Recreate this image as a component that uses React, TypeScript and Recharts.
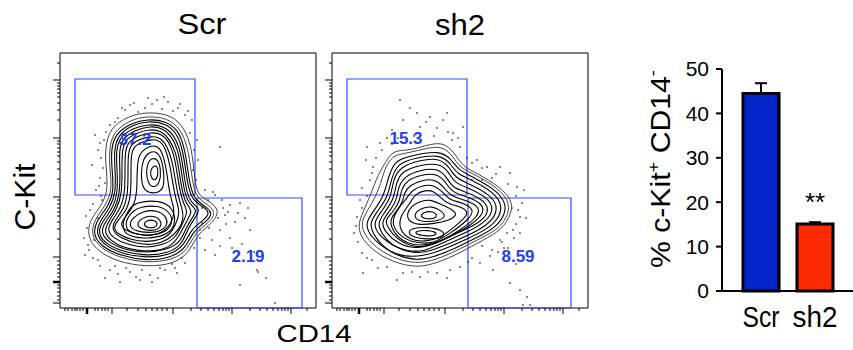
import React from 'react';
import {
  ScatterChart, Scatter, XAxis, YAxis, ReferenceArea, ReferenceDot,
  BarChart, Bar, Cell, ErrorBar, LabelList,
} from 'recharts';

const FONT = '"Liberation Sans", Arial, Helvetica, sans-serif';
const GATE_BLUE = '#2f4dff';
const LABEL_BLUE = '#2140ee';

// ---------- flow panels (display units: CD14 x 0..256, C-Kit y 0..255) ----------
const xMajorTicks = [27, 52, 113, 172, 231];
const xMinorTicks = [5, 8, 12, 15, 17, 20, 23, 35, 38, 42, 45, 48, 67, 78, 86, 92, 97, 102, 107,
  131, 141, 148, 154, 159, 163, 166, 169, 190, 200, 207, 213, 218, 222, 225, 228, 247];
const yMajorTicks = [5, 26, 51, 111, 170, 228];
const yMinorTicks = [8, 12, 16, 20, 23, 31, 35, 39, 43, 47, 69, 79, 86, 92, 96, 100, 104, 108,
  129, 139, 146, 152, 156, 160, 164, 167, 188, 198, 205, 211, 215, 219, 222, 225, 245];

const scrGates = [
  { x1: 15, x2: 135, y1: 113, y2: 229 },
  { x1: 137, x2: 242, y1: 0, y2: 110 },
];
const sh2Gates = [
  { x1: 15, x2: 135, y1: 113, y2: 229 },
  { x1: 136, x2: 239, y1: 0, y2: 110 },
];
const scrGateValues = ['37.2', '2.19'];
const sh2GateValues = ['15.3', '8.59'];
const scrGateLabelAt = [[75, 169], [188, 52]];
const sh2GateLabelAt = [[74, 170], [186, 52]];

const scrContours: number[][][] = [
  [[68,192],[87,196],[108,194],[122,184],[130,166],[133,148],[135,125],[139,112],[149,107],[160,98],[153,85],[137,74],[130,56],[114,44],[87,41],[58,46],[37,57],[27,72],[30,89],[43,104],[48,120],[46,140],[45,160],[50,180]],
  [[70,188],[87,192],[107,190],[120,180],[127,163],[130,146],[133,123],[137,110],[147,104],[156,96],[150,86],[135,76],[128,58],[113,48],[87,45],[60,50],[40,60],[31,73],[34,88],[46,103],[52,118],[50,138],[49,158],[53,176]],
  [[71,185],[88,189],[106,187],[118,178],[124,162],[127,144],[130,122],[135,108],[145,102],[153,95],[147,87],[133,77],[126,60],[111,50],[87,47],[61,52],[42,61],[33,73],[36,87],[48,101],[54,117],[52,138],[51,158],[55,174]],
  [[72,183],[88,187],[105,185],[116,176],[122,161],[125,143],[128,121],[133,107],[144,101],[150,95],[144,88],[131,79],[124,62],[110,53],[87,50],[62,54],[44,63],[36,74],[39,86],[50,100],[56,116],[55,138],[54,158],[58,173]],
  [[73,180],[89,184],[104,182],[114,173],[120,159],[123,141],[126,119],[130,106],[141,99],[135,90],[128,80],[122,63],[108,55],[87,52],[63,56],[46,64],[38,74],[41,85],[52,98],[58,115],[57,138],[56,158],[60,171]],
  [[75,178],[90,182],[103,180],[112,171],[118,158],[121,140],[124,118],[128,105],[138,98],[132,90],[126,80],[120,65],[106,58],[87,55],[65,58],[48,66],[41,75],[44,85],[54,97],[60,114],[60,138],[59,158],[63,170]],
  [[76,175],[90,179],[102,177],[110,168],[116,155],[119,138],[122,117],[126,104],[133,97],[127,88],[121,75],[111,61],[96,57],[79,57],[61,61],[50,68],[44,76],[48,86],[57,99],[62,115],[62,138],[62,157],[65,168]],
  [[78,172],[91,176],[102,174],[109,166],[114,153],[117,136],[120,116],[124,103],[128,96],[123,86],[116,70],[103,63],[86,60],[68,63],[53,70],[47,78],[52,88],[61,100],[65,116],[65,138],[65,156],[68,166]],
  [[80,169],[92,172],[101,170],[107,162],[112,148],[115,130],[118,112],[122,100],[124,90],[119,78],[108,68],[94,63],[78,64],[62,69],[51,78],[55,88],[64,99],[68,115],[68,137],[68,154],[71,164]],
  [[82,166],[92,169],[101,167],[106,158],[110,143],[113,123],[116,108],[120,96],[116,84],[110,73],[100,68],[86,66],[71,68],[58,74],[53,80],[58,88],[67,98],[71,113],[71,136],[71,153],[74,162]],
  [[85,160],[94,163],[100,160],[104,150],[107,135],[109,118],[112,106],[115,96],[111,84],[104,76],[92,72],[78,73],[64,78],[60,84],[66,92],[74,102],[77,116],[77,136],[78,152]],
  [[89,156],[97,157],[102,148],[104,134],[104,120],[98,115],[88,115],[82,121],[81,136],[83,149]],
  [[92,150],[98,149],[101,138],[100,125],[94,120],[88,124],[86,136],[88,146]],
  [[94,143],[98,141],[98,132],[95,127],[91,130],[90,137]],
  [[76,106],[100,108],[113,100],[116,86],[110,74],[90,69],[70,71],[62,78],[64,90],[70,100]],
  [[80,101],[98,103],[110,96],[113,86],[107,76],[90,72],[73,74],[65,80],[67,90],[73,97]],
  [[83,97],[97,98],[106,92],[108,84],[102,77],[88,75],[75,77],[69,82],[72,90]],
  [[85,92],[96,92],[102,86],[100,79],[90,77],[80,79],[76,85]],
  [[87,88],[95,88],[98,84],[95,80],[88,80],[83,83]],
];

const sh2Contours: number[][][] = [
  [[61,158],[75,157],[95,163],[111,166],[122,156],[131,141],[145,135],[168,121],[180,108],[180,95],[170,78],[151,68],[128,55],[105,45],[85,40],[60,46],[40,58],[28,72],[26,85],[33,100],[40,117],[46,133],[53,145]],
  [[62,153],[76,155],[95,160],[110,162],[121,152],[128,140],[144,133],[166,120],[177,107],[177,94],[167,79],[149,70],[126,58],[104,48],[84,44],[60,50],[39,64],[30,78],[30,88],[37,100],[46,116],[51,133],[55,144]],
  [[63,148],[78,152],[108,158],[120,148],[126,138],[143,130],[164,118],[174,105],[173,93],[163,80],[146,71],[124,60],[102,51],[83,47],[60,54],[38,71],[33,85],[41,96],[52,112],[56,130]],
  [[66,145],[83,150],[108,154],[119,144],[125,134],[142,127],[161,116],[170,104],[168,91],[156,79],[135,69],[113,59],[92,52],[73,51],[55,57],[42,72],[37,85],[45,96],[56,111],[59,129]],
  [[68,141],[88,148],[108,150],[118,140],[123,130],[140,123],[158,113],[166,102],[162,89],[148,78],[123,67],[102,58],[83,54],[64,60],[46,73],[41,85],[49,96],[59,110],[61,128]],
  [[70,137],[88,143],[107,145],[117,136],[122,125],[139,119],[156,110],[162,99],[155,87],[136,76],[112,66],[92,56],[74,57],[59,63],[50,74],[45,85],[53,96],[62,109],[64,125]],
  [[73,132],[88,138],[105,140],[115,131],[120,120],[138,115],[154,106],[157,96],[148,85],[123,74],[101,63],[83,59],[66,64],[53,76],[49,86],[57,96],[65,108],[66,121]],
  [[75,128],[89,133],[104,135],[114,126],[119,116],[136,111],[151,104],[152,94],[138,82],[117,71],[97,61],[80,61],[64,69],[55,82],[53,88],[61,96],[68,107],[69,118]],
  [[78,123],[90,128],[103,129],[112,121],[118,112],[134,108],[148,101],[146,91],[128,78],[110,67],[92,62],[75,64],[62,74],[57,88],[64,96],[71,106],[72,115]],
  [[80,118],[92,123],[102,123],[111,116],[117,108],[132,105],[143,98],[136,88],[119,75],[101,64],[84,65],[70,70],[60,82],[62,93],[69,103],[75,110]],
  [[83,114],[93,118],[102,117],[109,110],[116,104],[130,101],[138,95],[126,84],[110,71],[93,66],[78,68],[67,78],[68,92],[77,103]],
  [[86,106],[98,109],[108,104],[120,99],[126,93],[116,87],[100,84],[86,83],[76,87],[75,95],[79,101]],
  [[89,100],[100,102],[110,97],[114,91],[106,87],[94,86],[84,88],[82,94]],
  [[92,96],[101,97],[106,92],[101,89],[93,89],[88,92]],
  [[80,80],[96,81],[110,78],[114,72],[104,69],[92,69],[80,71],[76,76]],
  [[84,77],[96,78],[106,75],[102,72],[92,72],[83,74]],
];

const scrEvents: number[][] = [
  [97,208],[108,206],[85,200],[65,198],[118,200],[125,193],[70,203],[50,183],[78,196],[102,199],[113,197],[92,204],[58,190],
  [35,173],[38,158],[32,143],[40,130],[36,118],[42,108],[30,98],[28,63],[25,53],[33,50],[44,168],[41,150],[45,125],[38,90],[27,80],[34,68],
  [50,38],[70,36],[90,33],[105,38],[115,40],[45,30],[60,26],[80,28],[98,30],[125,45],[40,42],
  [132,188],[137,168],[133,138],[138,148],[130,175],
  [145,118],[155,113],[162,108],[170,103],[180,105],[165,93],[175,86],[185,90],[160,78],[170,70],[152,68],[145,58],[190,78],[155,53],
  [198,36],[180,23],[215,5],[160,161],[153,116],[197,38],[142,85],[150,96],[168,96],[178,95],[140,70],[172,60],[160,62],[188,100],[148,108],
  [62,200],[74,205],[88,210],[104,211],[120,204],[128,197],[55,186],[46,176],[40,165],[43,140],[39,122],[41,112],[33,104],[26,92],[24,70],
  [29,58],[38,48],[55,42],[66,40],[82,38],[100,40],[112,44],[122,50],[134,60],[140,78],[158,90],[163,100],[142,100],[136,128],[134,158],
  [58,34],[76,31],[92,26],[117,35],[149,80],[182,64],[176,50],[166,84],[194,56],[206,30],
];

const sh2Events: number[][] = [
  [68,208],[85,195],[98,191],[111,188],[88,181],[71,188],[121,175],[128,161],[48,165],[35,161],[41,141],[38,128],[131,181],[60,178],
  [78,200],[105,180],[115,195],[55,170],[94,186],[120,168],
  [28,108],[25,91],[30,55],[31,35],[22,75],[30,120],[34,148],
  [155,141],[168,141],[178,135],[185,121],[188,91],[181,78],[175,75],[168,68],[188,75],[145,148],[160,130],[190,105],[180,100],
  [172,60],[160,58],[150,62],[140,128],[135,150],
  [55,41],[71,35],[88,31],[105,35],[128,41],[148,45],[161,38],[178,25],[188,18],[195,11],[198,3],[191,3],[40,48],[115,30],[140,50],[65,28],
  [50,158],[44,150],[40,135],[35,112],[30,100],[24,82],[26,66],[35,50],[46,40],[80,36],[96,36],[118,38],[136,46],[158,52],[170,66],
  [184,84],[186,98],[184,112],[176,124],[164,134],[150,140],[140,145],[126,170],[116,176],[102,172],[82,172],[66,170],[60,164],[150,128],
  [176,60],[182,70],[166,56],[194,90],[192,118],[184,44],
];

// ---------- bar chart ----------
const barCategories = ['Scr', 'sh2'];
const barValues = [44.5, 15.1];
const barErrors = [2.3, 0.4];
const barSig = ['', '**'];
const barTicks = [0, 10, 20, 30, 40, 50];
const barColors = ['#0424cc', '#ff2a00'];
const barLabelWidths = [37, 45];

const toPts = (arr: number[][]) => arr.map(([x, y]) => ({ x, y }));

const EmptyShape = () => <g />;
const EventDot = (p: any) => <rect x={p.cx - 0.7} y={p.cy - 0.7} width={1.4} height={1.4} fill="#111" />;

const renderFlowXTick = (p: any) => {
  const v = p.payload.value;
  const major = xMajorTicks.includes(v);
  return <line key={'xt' + v} x1={p.x} x2={p.x} y1={p.y} y2={p.y + (major ? 6 : 3)} stroke="#000" strokeWidth={v === 27 ? 2.5 : 1} />;
};
const renderFlowYTick = (p: any) => {
  const v = p.payload.value;
  const major = yMajorTicks.includes(v);
  return <line key={'yt' + v} x1={p.x - (major ? 7 : 3)} x2={p.x} y1={p.y} y2={p.y} stroke="#000" strokeWidth={v === 26 ? 2.5 : 1} />;
};

function FlowPanel({ left, contours, events, gates, values, labelAt }: any) {
  return (
    <div style={{ position: 'absolute', left, top: 0 }}>
      <ScatterChart width={330} height={320} margin={{ top: 53, right: 14, bottom: 2, left: 50 }}>
        <XAxis type="number" dataKey="x" domain={[0, 256]} ticks={[...xMajorTicks, ...xMinorTicks]}
          interval={0} height={10} axisLine={false} tickLine={false} tickSize={0} tickMargin={0}
          tick={renderFlowXTick} allowDataOverflow />
        <YAxis type="number" dataKey="y" domain={[0, 255]} ticks={[...yMajorTicks, ...yMinorTicks]}
          interval={0} width={10} axisLine={false} tickLine={false} tickSize={0} tickMargin={0}
          tick={renderFlowYTick} allowDataOverflow />
        <Scatter data={toPts(events)} shape={<EventDot />} isAnimationActive={false} />
        {contours.map((ring: number[][], i: number) => (
          <Scatter key={'c' + i} data={toPts(ring)} shape={<EmptyShape />} isAnimationActive={false}
            line={{ stroke: i < 2 ? '#444' : '#000', strokeWidth: i < 2 ? 1 : 1.1 }} lineType="joint" lineJointType="basisClosed" />
        ))}
        <ReferenceArea x1={0} x2={256} y1={0} y2={255} fill="none" stroke="#000" strokeWidth={1} ifOverflow="visible" />
        {gates.map((g: any, i: number) => (
          <ReferenceArea key={'g' + i} x1={g.x1} x2={g.x2} y1={g.y1} y2={g.y2} fill="none" fillOpacity={0}
            stroke={GATE_BLUE} strokeWidth={1.2} ifOverflow="visible" />
        ))}
        {values.map((v: string, i: number) => (
          <ReferenceDot key={'l' + i} x={labelAt[i][0]} y={labelAt[i][1]} r={1} fill="none" stroke="none"
            label={{ value: v, position: 'center', fill: LABEL_BLUE, fontSize: 17, fontWeight: 700, fontFamily: FONT }} />
        ))}
      </ScatterChart>
    </div>
  );
}

const BarXTick = (p: any) => {
  const i = barCategories.indexOf(p.payload.value);
  return (
    <text x={p.x} y={p.y + 36} textAnchor="middle" fontSize={29} fontFamily={FONT} fill="#000"
      textLength={barLabelWidths[i]} lengthAdjust="spacingAndGlyphs">{p.payload.value}</text>
  );
};

export default function App() {
  const barData = barCategories.map((name, i) => ({
    name, value: barValues[i], err: [0, barErrors[i]], sig: barSig[i],
  }));
  return (
    <div style={{ position: 'absolute', left: 0, top: 0, width: 853, height: 350, background: '#fff', overflow: 'hidden' }}>
      <FlowPanel left={0} contours={scrContours} events={scrEvents} gates={scrGates} values={scrGateValues} labelAt={scrGateLabelAt} />
      <FlowPanel left={272} contours={sh2Contours} events={sh2Events} gates={sh2Gates} values={sh2GateValues} labelAt={sh2GateLabelAt} />
      <div style={{ position: 'absolute', left: 600, top: 0 }}>
        <BarChart width={253} height={350} data={barData} margin={{ top: 69, right: 0, bottom: 14, left: 62 }} barSize={36}>
          <XAxis dataKey="name" axisLine={{ stroke: '#000', strokeWidth: 2 }} tickLine={false} tickSize={0} tickMargin={0}
            height={45} padding={{ left: 12, right: 11 }} tick={<BarXTick />} interval={0} />
          <YAxis type="number" domain={[0, 50]} ticks={barTicks} width={60} interval={0}
            axisLine={{ stroke: '#000', strokeWidth: 2 }} tickLine={{ stroke: '#000', strokeWidth: 2 }}
            tickSize={6} tickMargin={7} tick={{ fill: '#000', fontSize: 21, fontFamily: FONT }} />
          <Bar dataKey="value" stroke="#000" strokeWidth={3} isAnimationActive={false}>
            {barData.map((d, i) => <Cell key={d.name} fill={barColors[i]} />)}
            <ErrorBar dataKey="err" width={6} stroke="#000" strokeWidth={2} direction="y" />
            <LabelList dataKey="sig" position="top" offset={13} fill="#000" fontSize={26} fontFamily={FONT} />
          </Bar>
        </BarChart>
      </div>
      <svg width={853} height={350} style={{ position: 'absolute', left: 0, top: 0, pointerEvents: 'none' }}>
        <text x={202} y={34} textAnchor="middle" fontSize={30} fontFamily={FONT} textLength={49} lengthAdjust="spacingAndGlyphs">Scr</text>
        <text x={460} y={35} textAnchor="middle" fontSize={30} fontFamily={FONT} textLength={50} lengthAdjust="spacingAndGlyphs">sh2</text>
        <text transform="translate(35,197) rotate(-90)" textAnchor="middle" fontSize={30} fontFamily={FONT} textLength={67} lengthAdjust="spacingAndGlyphs">C-Kit</text>
        <text x={314} y={342} textAnchor="middle" fontSize={23} fontFamily={FONT} textLength={75} lengthAdjust="spacingAndGlyphs">CD14</text>
        <text transform="translate(670,169) rotate(-90)" textAnchor="middle" fontSize={28} fontFamily={FONT} textLength={198} lengthAdjust="spacingAndGlyphs">
          % c-Kit<tspan dy={-11} fontSize={17}>+</tspan><tspan dy={11}> CD14</tspan><tspan dy={-12} fontSize={17}>-</tspan>
        </text>
      </svg>
    </div>
  );
}
